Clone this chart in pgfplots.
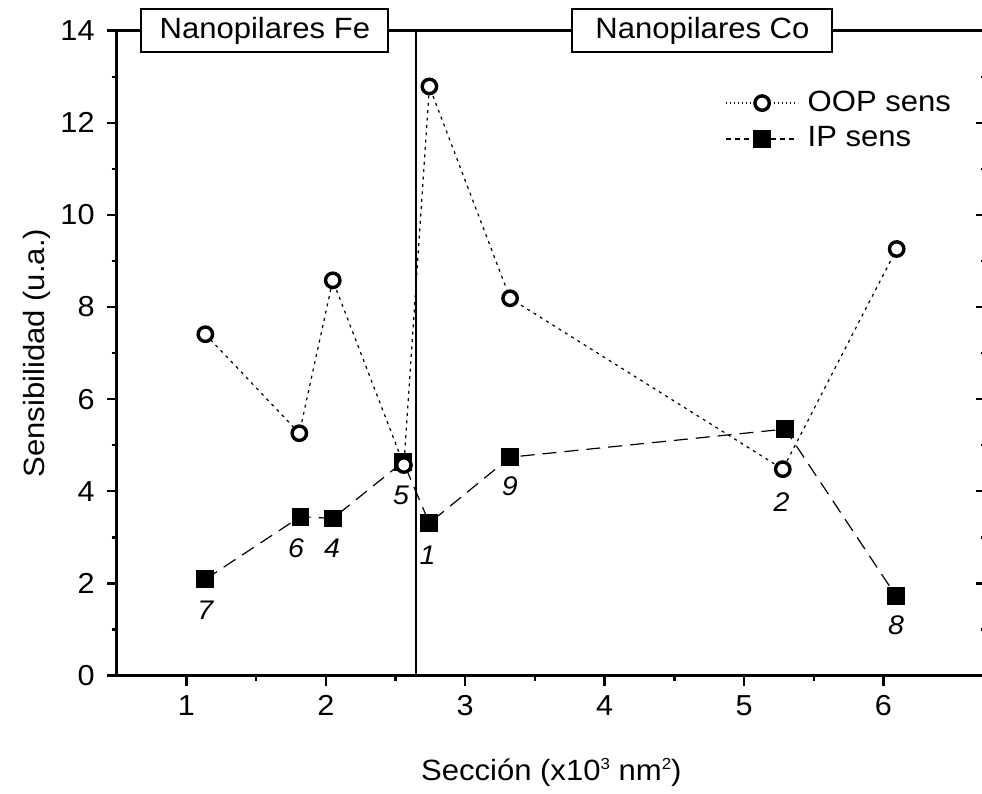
\documentclass[border=0pt]{standalone}
\usepackage{pgfplots}
\pgfplotsset{compat=1.18}
\usepackage{fontspec}
\setmainfont{Liberation Sans}[FakeStretch=1.06]
\pgfplotsset{
  leg oop/.style={legend image code/.code={\draw[mark repeat=2,mark phase=2,##1, dash pattern=on 0.6bp off 1.4bp] plot coordinates {(0bp,0bp) (18bp,0bp) (36bp,0bp)};}},
  leg ip/.style={legend image code/.code={\draw[mark repeat=2,mark phase=2,##1, dash pattern=on 2.5bp off 2bp] plot coordinates {(0bp,0bp) (18bp,0bp) (36bp,0bp)};}},
}
\newcommand{\sups}[1]{\raisebox{0.75ex}{\fontsize{8}{8}\selectfont #1}}
\begin{document}
\fontsize{14.7}{17}\selectfont
\begin{tikzpicture}
\begin{axis}[
  scale only axis, width=434.6bp, height=322.4bp,
  xmin=0.5, xmax=6.735, ymin=0, ymax=14,
  xtick={1,...,6}, ytick={0,2,...,14},
  minor x tick num=1, minor y tick num=1,
  xtick pos=bottom, ytick pos=left,
  tick align=outside,
  major tick length=5bp, minor tick length=2.5bp,
  axis line style={line width=1.4bp},
  tick style={black, line width=1.2bp},
  tick label style={font=\fontsize{14.5}{16}\selectfont, /pgf/number format/assume math mode=true},
  yticklabel style={xshift=-1bp},
  xlabel={Sección (x10\sups{3} nm\sups{2})},
  ylabel={Sensibilidad (u.a.)},
  xlabel style={at={(axis description cs:0.5,-0.1636)}, anchor=base},
  ylabel style={at={(axis description cs:-0.083,0.5)}, anchor=base},
  clip=false,
  reverse legend,
  legend cell align=left,
  legend style={at={(rel axis cs:0.70,0.86)}, anchor=west, draw=none, fill=none,
    inner sep=0pt, nodes={inner sep=0pt, font=\fontsize{14.7}{17}\selectfont},
    row sep=5.6bp, /tikz/every odd column/.append style={column sep=4.5bp}},
]
\coordinate (SW) at (rel axis cs:0,0);
\addplot[black, line width=0.6bp, dash pattern=on 7bp off 4bp,
  mark=square*, mark size=4.2bp, mark options={solid, line width=0.5bp}, leg ip]
  coordinates {(1.136,2.09) (1.818,3.45) (2.05,3.41) (2.555,4.64) (2.743,3.31) (3.322,4.74) (5.295,5.35) (6.09,1.73)};
\addlegendentry{IP sens}
\addplot[black, line width=0.6bp, dash pattern=on 1.5bp off 2.2bp,
  mark=*, mark size=3.6bp, mark options={solid, line width=1.7bp, fill=white}, leg oop]
  coordinates {(1.136,7.41) (1.81,5.26) (2.05,8.58) (2.56,4.57) (2.743,12.79) (3.322,8.19) (5.278,4.48) (6.095,9.26)};
\addlegendentry{OOP sens}
\draw[line width=0.7bp] (axis cs:2.648,0) -- (axis cs:2.648,14);
\node[draw, fill=white, line width=1bp, inner sep=0pt, minimum width=123.5bp, minimum height=21.7bp] at (axis cs:1.563,14) {Nanopilares Fe};
\node[draw, fill=white, line width=1bp, inner sep=0pt, minimum width=130bp, minimum height=21.7bp] at (axis cs:4.702,14) {Nanopilares Co};
\begin{scope}[every node/.style={font=\fontsize{13.5}{15}\selectfont\itshape}]
\node at (axis cs:1.136,1.42) {7};
\node at (axis cs:1.787,2.77) {6};
\node at (axis cs:2.045,2.77) {4};
\node at (axis cs:2.54,3.92) {5};
\node at (axis cs:2.73,2.62) {1};
\node at (axis cs:3.32,4.10) {9};
\node at (axis cs:5.27,3.77) {2};
\node at (axis cs:6.09,1.10) {8};
\end{scope}
\end{axis}
\begin{axis}[
  scale only axis, width=434.6bp, height=322.4bp,
  xmin=0.5, xmax=6.735, ymin=0, ymax=14,
  axis x line=none, axis y line*=right,
  ytick={0,2,...,14}, minor y tick num=1, yticklabels={},
  tick align=inside,
  major tick length=5bp, minor tick length=2.5bp,
  axis line style={line width=1.4bp},
  tick style={black, line width=1.2bp},
]
\addplot[draw=none] coordinates {(1,1)};
\end{axis}
\pgfresetboundingbox
\path ([shift={(-58.35bp,-59.25bp)}]SW) rectangle ++(491bp,397bp);
\end{tikzpicture}
\end{document}
